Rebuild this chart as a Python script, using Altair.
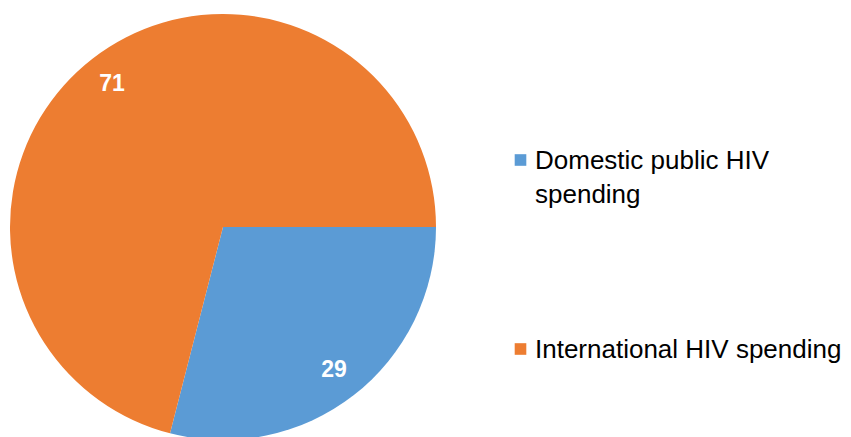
import math
import altair as alt
import pandas as pd

categories = ["Domestic public HIV spending", "International HIV spending"]
legend_labels = ["Domestic public HIV\nspending", "International HIV spending"]
values = [29, 71]
colors = ["#5B9BD5", "#ED7D31"]
order = [0, 1]

df = pd.DataFrame(
    {"category": categories, "label": legend_labels, "value": values, "order": order}
)

theta_scale = alt.Scale(domain=[0, 100], range=[math.pi / 2, math.pi / 2 + 2 * math.pi])
color_scale = alt.Scale(domain=categories, range=colors)

base = alt.Chart(df).encode(
    theta=alt.Theta("value:Q", stack=True, scale=theta_scale),
    order=alt.Order("order:Q"),
    x=alt.value(215),
    y=alt.value(219),
)

pie = base.mark_arc(outerRadius=213).encode(
    color=alt.Color("category:N", scale=color_scale, legend=None)
)

text = base.mark_text(
    radius=181,
    font="Liberation Sans",
    fontSize=23,
    fontWeight="bold",
    color="white",
).encode(text="value:Q")

legend_y = alt.Y(
    "category:N",
    scale=alt.Scale(domain=categories, range=[152, 341], padding=0),
    axis=None,
)

leg_sq = alt.Chart(df).mark_square(size=135, opacity=1).encode(
    x=alt.value(512.5),
    y=legend_y,
    color=alt.Color("category:N", scale=color_scale, legend=None),
)

leg_txt = alt.Chart(df).mark_text(
    align="left",
    baseline="alphabetic",
    dy=8.5,
    font="Liberation Sans",
    fontSize=26,
    color="black",
    lineBreak="\n",
    lineHeight=34,
).encode(x=alt.value(527), y=legend_y, text="label:N")

chart = (
    alt.layer(pie, text, leg_sq, leg_txt)
    .properties(width=835, height=429, autosize="none", padding=0, background="white")
    .configure_view(stroke=None)
)

chart.save("out.html", embed_options={"renderer": "svg", "actions": False})
